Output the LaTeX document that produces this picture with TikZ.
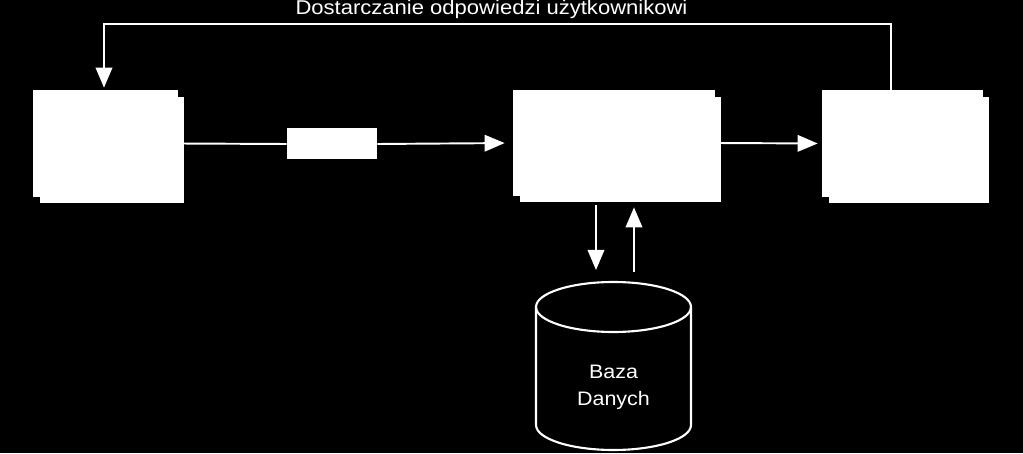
\documentclass[tikz,border=0pt]{standalone}
\usepackage{fontspec}
\setmainfont[FakeStretch=1.1]{Liberation Sans}
\usetikzlibrary{arrows.meta,shadows}

\begin{document}
\begin{tikzpicture}[
        every node/.style={
            text=white,
            font=\fontsize{11.1}{15.3}\selectfont
        },
        box/.style={
            fill=white,
            minimum width=#1,
            minimum height=2.14cm,
            copy shadow={shadow xshift=0.12cm, shadow yshift=-0.12cm}
        },
        flow/.style={
            draw=white,
            line width=1.1pt,
            -{Triangle[width=0.33cm, length=0.4cm]}
        }
    ]
        \useasboundingbox[fill=black] (0,0) rectangle (20.46,9.06);

        \node[box=2.9cm] (klient) at (2.11,6.19) {};
        \node[fill=white, minimum width=1.8cm, minimum height=0.62cm] (zapytanie) at (6.64,6.18) {};
        \node[box=4.04cm, minimum height=2.12cm] (serwer) at (12.28,6.2) {};
        \node[box=3.22cm] (modul) at (18.05,6.19) {};

        % baza danych
        \draw[white, line width=1.2pt] (10.72,2.92) -- (10.72,0.56)
            arc[start angle=180, end angle=360, x radius=1.55cm, y radius=0.5cm] -- (13.82,2.92);
        \draw[white, line width=1.2pt] (12.27,2.92) ellipse [x radius=1.55cm, y radius=0.5cm];
        \node[align=center] (baza) at (12.27,1.31) {Baza\\Danych};
        \coordinate (bazatop) at (12.27,3.42);

        \draw[white, line width=1.1pt] (klient.east) -- (zapytanie.west);
        \draw[flow, shorten >=0.16cm] (zapytanie.east) -- (serwer.west);
        \draw[flow, shorten >=0.08cm] (serwer.east) -- (modul.west);

        \coordinate (dol) at ([xshift=-0.36cm]serwer.south);
        \coordinate (gora) at ([xshift=0.4cm]serwer.south);
        \draw[flow, shorten <=0.18cm, shorten >=0.24cm] (dol) -- (dol |- bazatop);
        \draw[flow, shorten <=0.2cm, shorten >=0.22cm] (gora |- bazatop) -- (gora);

        \draw[flow, shorten >=0.04cm] ([xshift=-0.23cm]modul.north) -- ++(0,1.32)
            -| node[pos=0.25, above, inner sep=2.2pt, xshift=-0.12cm, font=\fontsize{11.4}{14}\selectfont] (opis) {Dostarczanie odpowiedzi użytkownikowi}
            ([xshift=-0.03cm]klient.north);
    \end{tikzpicture}
\end{document}
